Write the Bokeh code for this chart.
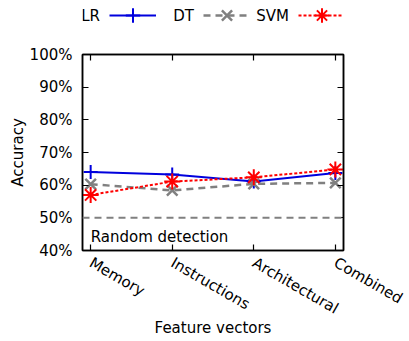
import math
from bokeh.plotting import figure
from bokeh.layouts import column
from bokeh.models import (FixedTicker, PrintfTickFormatter, LinearAxis, Range1d,
                          Span, Label, Legend, LegendItem, ColumnDataSource,
                          CustomJSTickFormatter)
from bokeh.core.properties import value
from bokeh.embed import file_html
from bokeh.resources import INLINE

categories = ["Memory", "Instructions", "Architectural", "Combined"]
lr_acc = [64.0, 63.3, 61.1, 63.7]
dt_acc = [60.3, 58.4, 60.4, 60.7]
svm_acc = [57.0, 61.1, 62.4, 64.8]
series_names = ["LR", "DT", "SVM"]
random_level = 50
y_ticks = [40, 50, 60, 70, 80, 90, 100]

FONT = "DejaVu Sans"
FS = "15px"
BLUE = "#0000dd"
GRAY = "#808080"
RED = "#ff0000"
W = 409
LEG_H = 44
FRAME_L = 82
FRAME_R = 343

styles = [
    dict(color=BLUE, dash="solid", lw=2, marker="cross", size=14, mlw=2),
    dict(color=GRAY, dash="7 5", lw=2.5, marker="x", size=15, mlw=2.5),
    dict(color=RED, dash="3 2", lw=2, marker="asterisk", size=16, mlw=2),
]

# ---------------- main plot ----------------
xs = list(range(len(categories)))
p = figure(width=W, height=341 - LEG_H, output_backend="svg", toolbar_location=None,
           x_range=Range1d(-0.1, len(categories) - 0.9), y_range=Range1d(40, 100),
           min_border_left=FRAME_L, min_border_right=W - FRAME_R, min_border_top=10,
           min_border_bottom=91)
p.grid.visible = False
p.outline_line_color = "black"
p.outline_line_width = 1.5
p.background_fill_color = "white"
p.border_fill_color = "white"

xt = FixedTicker(ticks=xs)
yt = FixedTicker(ticks=y_ticks)
overrides = {i: c for i, c in enumerate(categories)}

def style_axis(ax):
    ax.axis_line_color = "black"
    ax.axis_line_width = 1.5
    ax.major_tick_in = 6
    ax.major_tick_out = 0
    ax.major_tick_line_color = "black"
    ax.major_tick_line_width = 1.2
    ax.minor_tick_line_color = None
    ax.major_label_text_font = FONT
    ax.major_label_text_font_size = FS
    ax.major_label_text_color = "black"
    ax.axis_label_text_font = FONT
    ax.axis_label_text_font_size = FS
    ax.axis_label_text_font_style = "normal"
    ax.axis_label_text_color = "black"

xa = p.xaxis[0]
xa.ticker = xt
xa.major_label_overrides = overrides
xa.major_label_orientation = -math.pi / 6
xa.major_label_standoff = 11
xa.axis_label = "Feature vectors"
xa.axis_label_standoff = -9
style_axis(xa)

ya = p.yaxis[0]
ya.ticker = yt
ya.formatter = PrintfTickFormatter(format="%d%%")
ya.major_label_standoff = 10
ya.axis_label = "Accuracy"
ya.axis_label_standoff = 0
style_axis(ya)

blank = CustomJSTickFormatter(code="return ''")
top = LinearAxis(ticker=xt, formatter=blank)
style_axis(top)
top.major_label_standoff = 0
p.add_layout(top, "above")
right = LinearAxis(ticker=yt, formatter=blank)
style_axis(right)
right.major_label_standoff = 0
p.add_layout(right, "right")

p.add_layout(Span(location=random_level, dimension="width", line_color=GRAY,
                  line_width=2, line_dash="7 5"))
p.add_layout(Label(x=0, y=44.2, text="Random detection", text_font=FONT,
                   text_font_size=FS, text_color="black", text_baseline="alphabetic"))

src = ColumnDataSource(dict(x=xs, lr=lr_acc, dt=dt_acc, svm=svm_acc))
cols = ["lr", "dt", "svm"]
for col, st in zip(cols, styles):
    p.line("x", col, source=src, line_color=st["color"], line_width=st["lw"],
           line_dash=st["dash"])
    p.scatter("x", col, source=src, marker=st["marker"], size=st["size"],
              line_color=st["color"], line_width=st["mlw"])

# ---------------- legend strip (gnuplot-like: text, then sample) ----------------
# its frame is aligned with the main frame by the column layout; data x == canvas px
lg = figure(width=W, height=LEG_H, output_backend="svg", toolbar_location=None,
            x_range=Range1d(FRAME_L, FRAME_R), y_range=Range1d(0, LEG_H),
            min_border_left=FRAME_L, min_border_right=W - FRAME_R,
            min_border_top=0, min_border_bottom=0)
lg.axis.visible = False
lg.grid.visible = False
lg.outline_line_color = None
lg.background_fill_color = "white"
lg.border_fill_color = "white"

GH = 36
text_right = [99.5, 193.5, 288.5]
sample_left = [109, 203, 298]
for name, tx, sx, col, st in zip(series_names, text_right, sample_left, cols, styles):
    lg.add_layout(Label(x=tx, y=LEG_H - 15, text=name, text_font=FONT,
                        text_font_size=FS, text_align="right",
                        text_baseline="middle", text_color="black"))
    # same data as the chart; it lies outside this strip's y range, so only the key shows
    r1 = lg.line("x", col, source=src, line_color=st["color"], line_width=st["lw"],
                 line_dash=st["dash"])
    r2 = lg.scatter("x", col, source=src, marker=st["marker"], size=st["size"],
                    line_color=st["color"], line_width=st["mlw"])
    leg = Legend(items=[LegendItem(label=value(" "), renderers=[r1, r2])],
                 location=(sx - FRAME_L, LEG_H - 15 - GH // 2), orientation="horizontal",
                 glyph_width=47, glyph_height=GH, label_width=0, label_height=0,
                 label_standoff=0, padding=0, margin=0, spacing=0,
                 border_line_alpha=0, background_fill_alpha=0,
                 label_text_font_size="1px")
    lg.add_layout(leg, "center")

layout = column(lg, p, spacing=0)
open("out.html", "w").write(file_html(layout, INLINE))
